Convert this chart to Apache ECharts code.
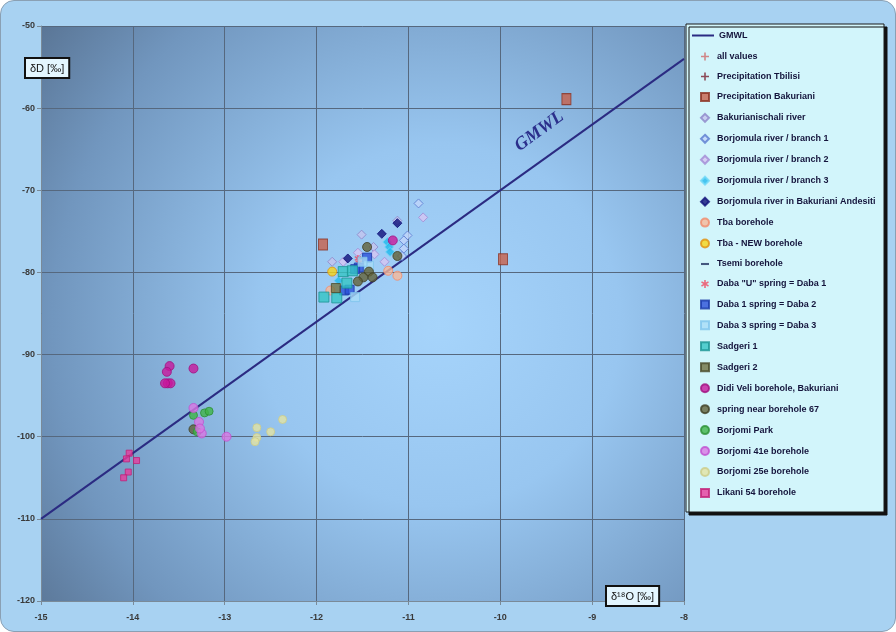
<!DOCTYPE html>
<html>
<head>
<meta charset="utf-8">
<script src="https://cdn.jsdelivr.net/npm/echarts@6/dist/echarts.min.js"></script>
<style>
html,body{margin:0;padding:0;background:#ffffff;}
#wrap{position:absolute;left:0;top:0;width:894px;height:630px;border:1px solid #8aa0b4;border-radius:14px;background:#a8d2f2;overflow:hidden;}
#chart{width:894px;height:630px;}
</style>
</head>
<body>
<div id="wrap"><div id="chart"></div></div>
<script>
// ---- axis ticks ----
const xTicks = [-15, -14, -13, -12, -11, -10, -9, -8];
const yTicks = [-120, -110, -100, -90, -80, -70, -60, -50];

// ---- GMWL (dD = 8 d18O + 10) ----
const gmwl = [[-15, -110], [-8, -54]];

// ---- series values [d18O, dD] ----
const allValues = [];
const precipTbilisi = [];
const precipBakuriani = [[-9.28, -58.9], [-9.97, -78.4], [-11.93, -76.6]];
const bakurianischali = [[-11.51, -75.4], [-11.83, -78.7], [-11.38, -76.9], [-11.12, -73.7]];
const branch1 = [[-10.89, -71.6], [-11.01, -75.5], [-11.05, -76.1], [-11.05, -77.1], [-11.07, -78.0]];
const branch2 = [[-10.84, -73.3], [-11.71, -78.7], [-11.55, -77.6], [-11.37, -77.8], [-11.26, -78.7]];
const branch3 = [[-11.23, -76.3], [-11.21, -76.9], [-11.20, -77.5], [-11.76, -81.0]];
const andesiti = [[-11.12, -74.0], [-11.29, -75.3], [-11.66, -78.3]];
const tba = [[-11.85, -82.2], [-11.22, -79.8], [-11.12, -80.4]];
const tbaNew = [[-11.83, -79.9]];
const tsemi = [[-11.50, -78.3]];
const dabaU = [[-11.55, -78.3], [-11.54, -78.8]];
const daba1 = [[-11.45, -78.2], [-11.54, -79.4], [-11.70, -82.2], [-11.64, -82.1], [-11.58, -79.6]];
const daba3 = [[-11.43, -79.2], [-11.58, -83.0], [-11.50, -78.7]];
const sadgeri1 = [[-11.71, -79.9], [-11.61, -79.8], [-11.92, -83.0], [-11.78, -83.1], [-11.67, -81.3]];
const sadgeri2 = [[-11.79, -81.9]];
const didiVeli = [[-13.60, -91.4], [-13.63, -92.1], [-13.62, -93.5], [-13.59, -93.5], [-13.65, -93.5], [-13.34, -91.7], [-11.17, -76.1]];
const spring67 = [[-11.45, -76.9], [-11.12, -78.0], [-11.43, -79.9], [-11.49, -80.6], [-11.55, -81.1], [-11.39, -80.6], [-13.34, -99.1]];
const borjomiPark = [[-13.34, -97.4], [-13.22, -97.1], [-13.17, -96.9], [-13.30, -99.4]];
const borjomi41e = [[-13.34, -96.5], [-13.28, -98.2], [-13.25, -99.6], [-12.98, -100.0], [-13.27, -99.0]];
const borjomi25e = [[-12.65, -98.9], [-12.50, -99.4], [-12.37, -97.9], [-12.65, -100.1], [-12.67, -100.6]];
const likani54 = [[-14.04, -102.0], [-14.07, -102.7], [-13.96, -102.9], [-14.05, -104.3], [-14.10, -105.0]];

const PLUS = 'path://M4,0H6V4H10V6H6V10H4V6H0V4H4Z';
const STAR = 'path://M4,0h2v3.3l2.9-1.7l1,1.7L7,5l2.9,1.7l-1,1.7L6,6.7V10H4V6.7L1.1,8.4l-1-1.7L3,5L0.1,3.3l1-1.7L4,3.3z';
const DASH = 'path://M0,0H10V2.6H0Z';

function sc(name, data, symbol, size, fill, border, bw) {
  return {
    name: name, type: 'scatter', data: data, symbol: symbol, symbolSize: size,
    itemStyle: { color: fill, borderColor: border || fill, borderWidth: bw == null ? 1 : bw },
    emphasis: { disabled: true }, z: 3
  };
}

const series = [
  { name: 'GMWL', type: 'line', data: gmwl, symbol: 'none', lineStyle: { color: '#2b2b82', width: 2 }, itemStyle: { color: '#2b2b82' }, z: 2, silent: true },
  sc('all values', allValues, PLUS, 7, '#d06a6a', '#d06a6a', 0),
  sc('Precipitation Tbilisi', precipTbilisi, PLUS, 7, '#7a2030', '#7a2030', 0),
  sc('Precipitation Bakuriani', precipBakuriani, 'rect', [9, 11], '#c8604a', '#8a3020', 1),
  sc('Bakurianischali river', bakurianischali, 'diamond', 9, '#c4c4ee', '#8c84c8', 1),
  sc('Borjomula river / branch 1', branch1, 'diamond', 9, '#c0d4fa', '#5a7ad0', 1),
  sc('Borjomula river / branch 2', branch2, 'diamond', 9, '#d6c6f2', '#a28ad4', 1),
  sc('Borjomula river / branch 3', branch3, 'diamond', 9, '#20b8ec', '#70d8f8', 1),
  sc('Borjomula river in Bakuriani Andesiti', andesiti, 'diamond', 9, '#10107a', '#10107a', 1),
  sc('Tba borehole', tba, 'circle', 9, '#f8b898', '#f08a6a', 1),
  sc('Tba - NEW borehole', tbaNew, 'circle', 9, '#f8d418', '#e09010', 1),
  sc('Tsemi borehole', tsemi, DASH, [7, 2], '#203060', '#203060', 0),
  sc('Daba "U" spring = Daba 1', dabaU, STAR, 7, '#f04860', '#f04860', 0),
  sc('Daba 1 spring = Daba 2', daba1, 'rect', 9, '#2a50d8', '#1a3aa8', 1),
  sc('Daba 3 spring = Daba 3', daba3, 'rect', 9, '#a8dcf8', '#80c4ec', 1),
  sc('Sadgeri 1', sadgeri1, 'rect', 10, '#34c4c4', '#1c9494', 1),
  sc('Sadgeri 2', sadgeri2, 'rect', 9, '#727244', '#4a4a2a', 1),
  sc('Didi Veli borehole, Bakuriani', didiVeli, 'circle', 9, '#c8189c', '#a01080', 1),
  sc('spring near borehole 67', spring67, 'circle', 9, '#62623a', '#3e3e24', 1),
  sc('Borjomi Park', borjomiPark, 'circle', 8, '#40b448', '#2c9034', 1),
  sc('Borjomi 41e borehole', borjomi41e, 'circle', 9, '#da78e4', '#c050d0', 1),
  sc('Borjomi 25e borehole', borjomi25e, 'circle', 8, '#e4e4a4', '#cccc88', 1),
  sc('Likani 54 borehole', likani54, 'rect', 6, '#e83c9c', '#c02078', 1)
];

const legendText = { color: '#14143c', fontSize: 9, fontWeight: 'bold', fontFamily: '"Liberation Sans", Arial, sans-serif' };
const markerNames = series.slice(1).map(s => s.name);

const chart = echarts.init(document.getElementById('chart'), null, { renderer: 'canvas' });
chart.setOption({
  animation: false,
  backgroundColor: 'transparent',
  grid: {
    left: 40, right: 211, top: 25, bottom: 30, show: true, borderWidth: 0,
    backgroundColor: {
      type: 'radial', x: 0.62, y: 0.52, r: 0.9,
      colorStops: [
        { offset: 0, color: '#a6d4fb' },
        { offset: 0.35, color: '#98c6f0' },
        { offset: 0.75, color: '#7196be' },
        { offset: 1, color: '#56708f' }
      ]
    }
  },
  xAxis: {
    type: 'value', min: xTicks[0], max: xTicks[xTicks.length - 1], interval: 1,
    axisLine: { show: true, lineStyle: { color: '#7a8a98', width: 1 } },
    axisTick: { show: true, length: 4, lineStyle: { color: '#7a8a98' } },
    axisLabel: { color: '#3a3a3a', fontSize: 9, fontWeight: 'bold', fontFamily: '"Liberation Sans", sans-serif', margin: 12 },
    splitLine: { show: true, lineStyle: { color: '#56687e', width: 1 } }
  },
  yAxis: {
    type: 'value', min: yTicks[0], max: yTicks[yTicks.length - 1], interval: 10,
    axisLine: { show: true, lineStyle: { color: '#7a8a98', width: 1 } },
    axisTick: { show: true, length: 4, lineStyle: { color: '#7a8a98' } },
    axisLabel: { color: '#3a3a3a', fontSize: 9, fontWeight: 'bold', fontFamily: '"Liberation Sans", sans-serif', margin: 6 },
    splitLine: { show: true, lineStyle: { color: '#56687e', width: 1 } }
  },
  legend: [
    {
      orient: 'vertical', left: 691, top: 30, padding: 0, itemWidth: 22, itemHeight: 2,
      selectedMode: false, textStyle: legendText, z: 10,
      data: [{ name: 'GMWL', icon: 'rect' }]
    },
    {
      orient: 'vertical', left: 699, top: 51, padding: 0, itemGap: 10.95, itemWidth: 8, itemHeight: 8,
      selectedMode: false,
      textStyle: Object.assign({ padding: [0, 0, 0, 3] }, legendText),
      data: markerNames.map(n => n === 'Tsemi borehole' ? { name: n, icon: DASH } : n),
      z: 10
    }
  ],
  graphic: [
    { type: 'rect', z: 1, shape: { x: 685, y: 23, width: 198, height: 488 },
      style: { fill: '#d2f5fb', stroke: '#1a1a1a', lineWidth: 1, shadowColor: '#111', shadowOffsetX: 3, shadowOffsetY: 3, shadowBlur: 0 } },
    { type: 'text', z: 20, left: 23, top: 56,
      style: { text: 'δD [‰]', fill: '#111', font: '11px "Liberation Sans", sans-serif', backgroundColor: '#e4f6ff', borderColor: '#111', borderWidth: 2, padding: [4, 4, 3, 4] } },
    { type: 'text', z: 20, left: 604, top: 584,
      style: { text: 'δ¹⁸O [‰]', fill: '#111', font: '11px "Liberation Sans", sans-serif', backgroundColor: '#e4f6ff', borderColor: '#111', borderWidth: 2, padding: [4, 4, 3, 4] } },
    { type: 'text', z: 20, x: 521, y: 154, rotation: 0.63,
      style: { text: 'GMWL', fill: '#2b2f8c', font: 'italic bold 18px "Liberation Serif", "DejaVu Serif", serif', textVerticalAlign: 'bottom' } }
  ],
  series: series
});
</script>
</body>
</html>
